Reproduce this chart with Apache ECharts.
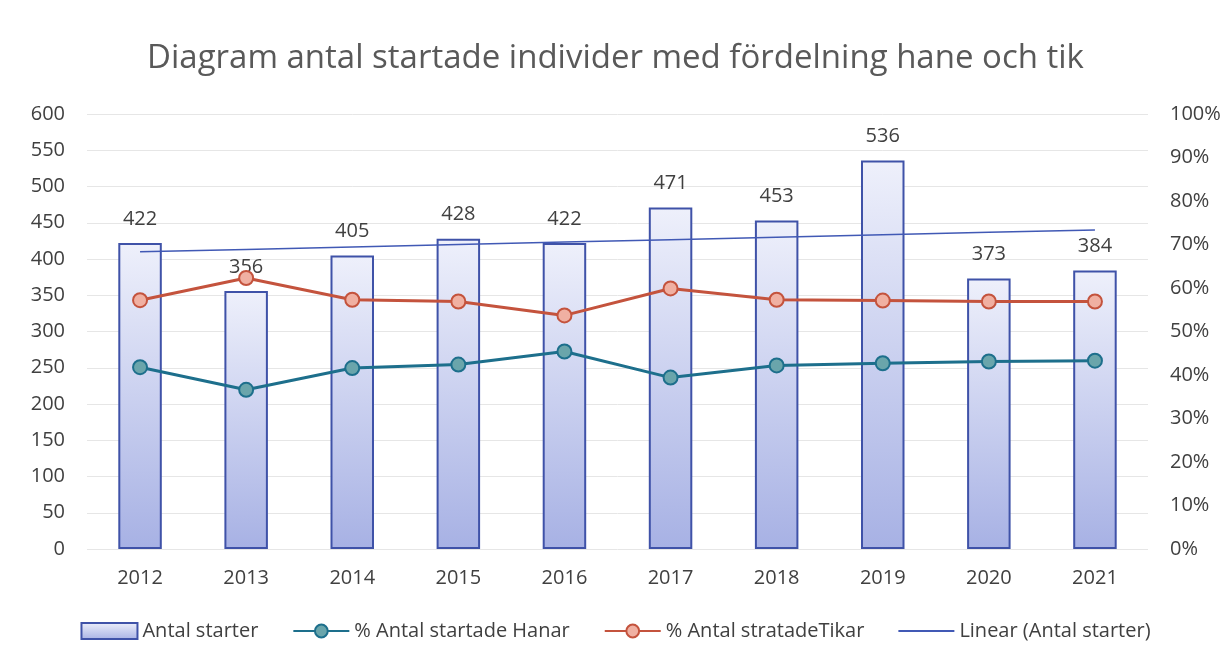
<!DOCTYPE html>
<html><head><meta charset="utf-8">
<script src="https://cdn.jsdelivr.net/npm/echarts@6/dist/echarts.min.js"></script>
<style>html,body{margin:0;padding:0;background:#fff;}#c{width:1231px;height:664px;}</style>
</head><body><div id="c"></div>
<script>
const years = ['2012','2013','2014','2015','2016','2017','2018','2019','2020','2021'];
const antalStarter = [422,356,405,428,422,471,453,536,373,384];
const hanarPct = [41.8,36.6,41.6,42.4,45.4,39.4,42.2,42.7,43.1,43.3];
const tikarPct = [57.2,62.3,57.3,56.9,53.7,59.9,57.3,57.1,56.9,56.9];
const leftTicks = [0,50,100,150,200,250,300,350,400,450,500,550,600];
const rightTicks = [0,10,20,30,40,50,60,70,80,90,100];

// Linear trendline (least squares) of Antal starter, as Excel's "Linear" trendline
const n = antalStarter.length;
const xm = (n + 1) / 2;
const ym = antalStarter.reduce((a,b)=>a+b,0)/n;
let sxy = 0, sxx = 0;
antalStarter.forEach((v,i)=>{ const dx=(i+1)-xm; sxy += dx*(v-ym); sxx += dx*dx; });
const slope = sxy/sxx;
const trend = antalStarter.map((v,i)=> +(ym + slope*((i+1)-xm)).toFixed(2));

const FONT = '"Open Sans", "Liberation Sans", sans-serif';
const TXT = '#404040';
const chart = echarts.init(document.getElementById('c'));
chart.setOption({
  backgroundColor: '#fff',
  animation: false,
  title: {
    text: 'Diagram antal startade individer med fördelning hane och tik',
    left: 'center', top: 37,
    textStyle: { fontFamily: FONT, fontSize: 33, fontWeight: 'normal', color: '#595959' }
  },
  legend: {
    bottom: 18, left: 'center', itemGap: 34, itemWidth: 56, itemHeight: 16,
    textStyle: { fontFamily: FONT, fontSize: 20, color: TXT },
    data: [
      { name: 'Antal starter', icon: 'rect' },
      { name: '% Antal startade Hanar' },
      { name: '% Antal stratadeTikar' },
      { name: 'Linear (Antal starter)', icon: 'path://M0,0 L60,0 L60,2.2 L0,2.2 Z' }
    ]
  },
  grid: { left: 87, right: 83, top: 114, bottom: 115 },
  xAxis: {
    type: 'category', data: years,
    axisLine: { show: false }, axisTick: { show: false },
    axisLabel: { fontFamily: FONT, fontSize: 20, color: TXT, margin: 19 }
  },
  yAxis: [
    { type: 'value', min: leftTicks[0], max: leftTicks[leftTicks.length-1], interval: 50,
      axisLabel: { fontFamily: FONT, fontSize: 20, color: TXT, margin: 22 },
      splitLine: { lineStyle: { color: '#e6e6e6', width: 1 } },
      axisLine: { show: false }, axisTick: { show: false } },
    { type: 'value', min: rightTicks[0], max: rightTicks[rightTicks.length-1], interval: 10,
      axisLabel: { fontFamily: FONT, fontSize: 20, color: TXT, margin: 22, formatter: '{value}%' },
      splitLine: { show: false }, axisLine: { show: false }, axisTick: { show: false } }
  ],
  series: [
    { name: 'Antal starter', type: 'bar', data: antalStarter, barWidth: '41%', z: 1,
      itemStyle: {
        color: new echarts.graphic.LinearGradient(0,0,0,1,[
          {offset:0,color:'#eef0fb'},{offset:1,color:'#a7b1e4'}]),
        borderColor: '#3f52a8', borderWidth: 2
      },
      label: { show: true, position: 'top', distance: 14, fontFamily: FONT, fontSize: 20, color: TXT }
    },
    { name: '% Antal startade Hanar', type: 'line', yAxisIndex: 1, data: hanarPct, z: 3,
      symbol: 'circle', symbolSize: 14,
      lineStyle: { color: '#1d6f8c', width: 3 },
      itemStyle: { color: '#6aa5ab', borderColor: '#1d6f8c', borderWidth: 2 }
    },
    { name: '% Antal stratadeTikar', type: 'line', yAxisIndex: 1, data: tikarPct, z: 3,
      symbol: 'circle', symbolSize: 14,
      lineStyle: { color: '#c4533d', width: 3 },
      itemStyle: { color: '#f0b0a2', borderColor: '#c4533d', borderWidth: 2 }
    },
    { name: 'Linear (Antal starter)', type: 'line', data: trend, z: 2,
      symbol: 'none', lineStyle: { color: '#4159b5', width: 1.5 },
      itemStyle: { color: '#4159b5' }
    }
  ]
});
</script></body></html>
